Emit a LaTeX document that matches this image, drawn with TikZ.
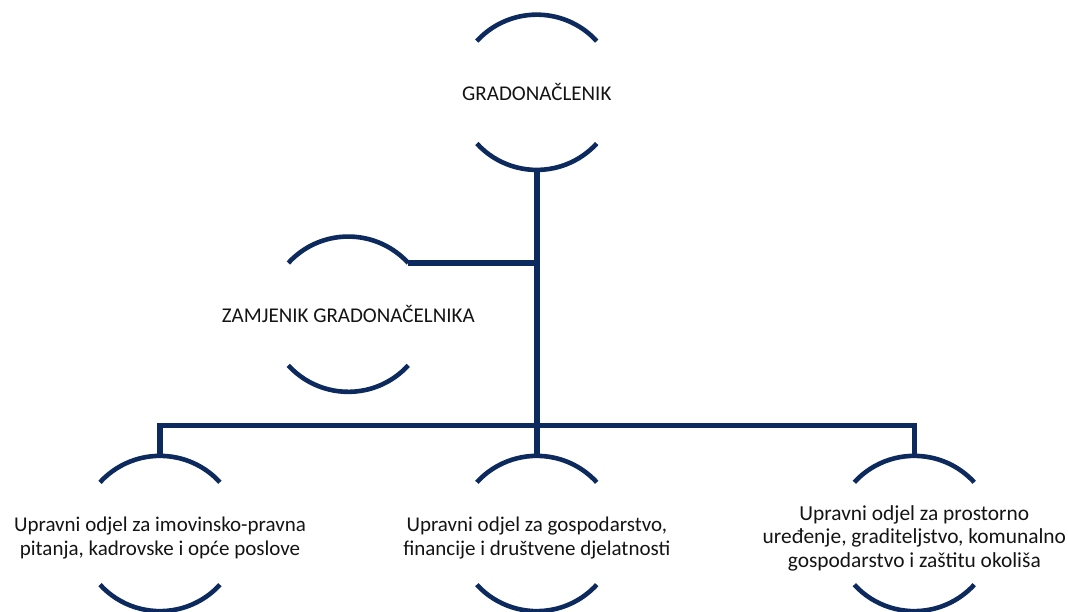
\documentclass[tikz,border=0pt]{standalone}
\usepackage{fontspec}
\setmainfont{Carlito}
\definecolor{navy}{RGB}{13,42,94}
\definecolor{ink}{RGB}{20,20,20}
\begin{document}
\begin{tikzpicture}[x=1pt,y=1pt,
  unit/.style={minimum width=120pt, minimum height=155pt, inner sep=0pt, align=center,
    text=ink, font=\fontsize{21}{23.5}\selectfont},
  lower/.style={minimum height=164pt, yshift=-4.5pt},
  arcline/.style={draw=navy, line width=4.6pt},
  link/.style={draw=navy, line width=5.5pt, line join=miter}]
\useasboundingbox (0,0) rectangle (1068,612);
% nodes
\node[unit] (g) at (536.8,519.7) {GRADONAČLENIK};
\node[unit] (z) at (348.3,297.8) {ZAMJENIK GRADONAČELNIKA};
\node[unit,lower] (a) at (160,78.5) {Upravni odjel za imovinsko-pravna\\pitanja, kadrovske i opće poslove};
\node[unit,lower] (b) at (536.8,78.5) {Upravni odjel za gospodarstvo,\\financije i društvene djelatnosti};
\node[unit,lower,font=\fontsize{21.4}{23.5}\selectfont] (c) at (914.3,78.5) {Upravni odjel za prostorno\\uređenje, graditeljstvo, komunalno\\gospodarstvo i zaštitu okoliša};
% helper coordinates
\coordinate (zr) at ([xshift=60pt,yshift=-26.5pt]z.north);
\coordinate (bus) at (536.8,186.7);
% connectors
\draw[link] (g.south) -- (b.north);
\draw[link] (zr) -- (zr -| g.south);
\draw[link] (a.north) |- (bus) -| (c.north);
% arcs
\foreach \n/\o in {g/26.5,z/26.5,a/35.5,b/35.5,c/35.5}{
  \draw[arcline] ([xshift=-60pt,yshift=-26.5pt]\n.north) arc[start angle=137.6, end angle=42.4, radius=81.2pt];
  \draw[arcline] ([xshift=-60pt,yshift=\o pt]\n.south) arc[start angle=222.4, end angle=317.6, radius=81.2pt];
}
\end{tikzpicture}
\end{document}
